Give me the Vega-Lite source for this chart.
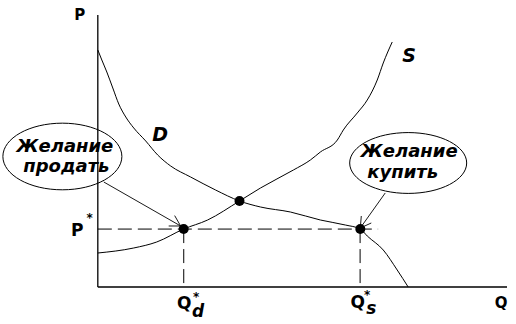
{
  "$schema": "https://vega.github.io/schema/vega-lite/v6.json",
  "width": 516,
  "height": 324,
  "padding": 0,
  "autosize": {"type": "fit", "contains": "padding"},
  "background": "white",
  "config": {"view": {"stroke": null}},
  "datasets": {
    "axes": [
      {"q": 0, "p": 0, "q2": 0, "p2": 10},
      {"q": 0, "p": 0, "q2": 10, "p2": 0}
    ],
    "dashes": [
      {"q": 0, "p": 2.13, "q2": 6.85, "p2": 2.13},
      {"q": 2.1, "p": 2.13, "q2": 2.1, "p2": 0},
      {"q": 6.41, "p": 2.13, "q2": 6.41, "p2": 0}
    ],
    "demand": [
      {"q": 0, "p": 8.713}, {"q": 0.098, "p": 8.346}, {"q": 0.22, "p": 7.904},
      {"q": 0.366, "p": 7.316}, {"q": 0.512, "p": 6.728}, {"q": 0.683, "p": 6.25},
      {"q": 0.878, "p": 5.846}, {"q": 1.171, "p": 5.368}, {"q": 1.463, "p": 4.853},
      {"q": 1.78, "p": 4.449}, {"q": 2.268, "p": 4.044}, {"q": 2.878, "p": 3.566},
      {"q": 3.463, "p": 3.162}, {"q": 3.976, "p": 2.941},
      {"q": 4.707, "p": 2.757}, {"q": 5.439, "p": 2.463}, {"q": 6.049, "p": 2.279},
      {"q": 6.415, "p": 2.132}, {"q": 6.585, "p": 1.875}, {"q": 6.976, "p": 1.36},
      {"q": 7.317, "p": 0.625}, {"q": 7.585, "p": 0}
    ],
    "supply": [
      {"q": 0, "p": 1.25}, {"q": 0.878, "p": 1.434}, {"q": 1.439, "p": 1.654},
      {"q": 2.098, "p": 2.132}, {"q": 2.683, "p": 2.463}, {"q": 3.463, "p": 3.162},
      {"q": 3.976, "p": 3.64}, {"q": 4.78, "p": 4.301}, {"q": 5.195, "p": 4.669},
      {"q": 5.439, "p": 4.963}, {"q": 5.854, "p": 5.404}, {"q": 6.0, "p": 5.772},
      {"q": 6.341, "p": 6.397}, {"q": 6.585, "p": 6.875}, {"q": 6.829, "p": 7.61},
      {"q": 6.976, "p": 8.235}, {"q": 7.195, "p": 9.007}
    ],
    "arrows": [
      {"q": 0.146, "p": 3.86, "q2": 2.024, "p2": 2.243},
      {"q": 2.024, "p": 2.243, "q2": 1.732, "p2": 2.243},
      {"q": 2.024, "p": 2.243, "q2": 1.878, "p2": 2.625},
      {"q": 7.024, "p": 3.456, "q2": 6.415, "p2": 2.169},
      {"q": 6.415, "p": 2.169, "q2": 6.683, "p2": 2.353},
      {"q": 6.415, "p": 2.169, "q2": 6.439, "p2": 2.61}
    ],
    "points": [
      {"q": 2.098, "p": 2.132},
      {"q": 3.463, "p": 3.162},
      {"q": 6.415, "p": 2.132}
    ],
    "bubbles": [
      {"side": "sell", "q": -0.866, "p": 4.798},
      {"side": "buy", "q": 7.585, "p": 4.559}
    ],
    "labels": [
      {"role": "axis", "t": "P", "q": -0.439, "p": 9.816},
      {"role": "axis", "t": "Q", "q": 9.854, "p": -0.772},
      {"role": "main", "t": "P", "q": -0.5, "p": 1.875},
      {"role": "main", "t": "Q", "q": 2.11, "p": -0.809},
      {"role": "main", "t": "Q", "q": 6.354, "p": -0.772},
      {"role": "star", "t": "*", "q": -0.2, "p": 2.537},
      {"role": "star", "t": "*", "q": 2.402, "p": -0.36},
      {"role": "star", "t": "*", "q": 6.585, "p": -0.28},
      {"role": "sub", "t": "d", "q": 2.451, "p": -1.103},
      {"role": "sub", "t": "s", "q": 6.683, "p": -0.99},
      {"role": "curve", "t": "D", "q": 1.524, "p": 5.368},
      {"role": "curve", "t": "S", "q": 7.61, "p": 8.272},
      {"role": "bubble", "t": "Желание", "q": -0.805, "p": 4.963},
      {"role": "bubble", "t": "продать", "q": -0.768, "p": 4.228},
      {"role": "bubble", "t": "Желание", "q": 7.61, "p": 4.779},
      {"role": "bubble", "t": "купить", "q": 7.451, "p": 4.007}
    ]
  },
  "encoding": {
    "x": {"field": "q", "type": "quantitative", "axis": null,
          "scale": {"domain": [-2.366, 10.22], "nice": false, "zero": false}},
    "y": {"field": "p", "type": "quantitative", "axis": null,
          "scale": {"domain": [-1.36, 10.551], "nice": false, "zero": false}}
  },
  "layer": [
    {
      "data": {"name": "axes"},
      "mark": {"type": "rule", "color": "black", "strokeWidth": 1.3},
      "encoding": {"x2": {"field": "q2"}, "y2": {"field": "p2"}}
    },
    {
      "data": {"name": "dashes"},
      "mark": {"type": "rule", "color": "black", "strokeWidth": 1, "strokeDash": [14, 6]},
      "encoding": {"x2": {"field": "q2"}, "y2": {"field": "p2"}}
    },
    {
      "data": {"name": "demand"},
      "mark": {"type": "line", "color": "black", "strokeWidth": 1, "interpolate": "monotone"},
      "encoding": {}
    },
    {
      "data": {"name": "supply"},
      "mark": {"type": "line", "color": "black", "strokeWidth": 1, "interpolate": "monotone"},
      "encoding": {}
    },
    {
      "data": {"name": "arrows"},
      "mark": {"type": "rule", "color": "black", "strokeWidth": 0.9},
      "encoding": {"x2": {"field": "q2"}, "y2": {"field": "p2"}}
    },
    {
      "data": {"name": "points"},
      "mark": {"type": "point", "shape": "circle", "filled": true, "color": "black", "opacity": 1, "size": 100}
    },
    {
      "data": {"name": "bubbles"},
      "transform": [{"filter": "datum.side === 'sell'"}],
      "mark": {"type": "point", "filled": false, "color": "black", "strokeWidth": 1, "opacity": 1,
               "size": 14161,
               "shape": "M -1 0 A 1 0.56 0 1 0 1 0 A 1 0.56 0 1 0 -1 0 Z"}
    },
    {
      "data": {"name": "bubbles"},
      "transform": [{"filter": "datum.side === 'buy'"}],
      "mark": {"type": "point", "filled": false, "color": "black", "strokeWidth": 1, "opacity": 1,
               "size": 13689,
               "shape": "M -1 0 A 1 0.52 0 1 0 1 0 A 1 0.52 0 1 0 -1 0 Z"}
    },
    {
      "data": {"name": "labels"},
      "transform": [{"filter": "datum.role === 'axis'"}],
      "mark": {"type": "text", "font": "DejaVu Sans", "fontWeight": "bold", "fontSize": 15,
               "align": "center", "baseline": "alphabetic", "color": "black"},
      "encoding": {"text": {"field": "t"}}
    },
    {
      "data": {"name": "labels"},
      "transform": [{"filter": "datum.role === 'main'"}],
      "mark": {"type": "text", "font": "DejaVu Sans", "fontWeight": "bold", "fontSize": 17,
               "align": "center", "baseline": "alphabetic", "color": "black"},
      "encoding": {"text": {"field": "t"}}
    },
    {
      "data": {"name": "labels"},
      "transform": [{"filter": "datum.role === 'star'"}],
      "mark": {"type": "text", "font": "DejaVu Sans", "fontWeight": "bold", "fontSize": 12,
               "align": "center", "baseline": "middle", "color": "black"},
      "encoding": {"text": {"field": "t"}}
    },
    {
      "data": {"name": "labels"},
      "transform": [{"filter": "datum.role === 'sub'"}],
      "mark": {"type": "text", "font": "DejaVu Sans", "fontWeight": "bold", "fontStyle": "italic", "fontSize": 17,
               "align": "center", "baseline": "alphabetic", "color": "black"},
      "encoding": {"text": {"field": "t"}}
    },
    {
      "data": {"name": "labels"},
      "transform": [{"filter": "datum.role === 'curve'"}],
      "mark": {"type": "text", "font": "DejaVu Sans", "fontWeight": "bold", "fontStyle": "italic", "fontSize": 19,
               "align": "center", "baseline": "alphabetic", "color": "black"},
      "encoding": {"text": {"field": "t"}}
    },
    {
      "data": {"name": "labels"},
      "transform": [{"filter": "datum.role === 'bubble'"}],
      "mark": {"type": "text", "font": "DejaVu Sans", "fontWeight": "bold", "fontStyle": "italic", "fontSize": 18,
               "align": "center", "baseline": "alphabetic", "color": "black"},
      "encoding": {"text": {"field": "t"}}
    }
  ]
}
